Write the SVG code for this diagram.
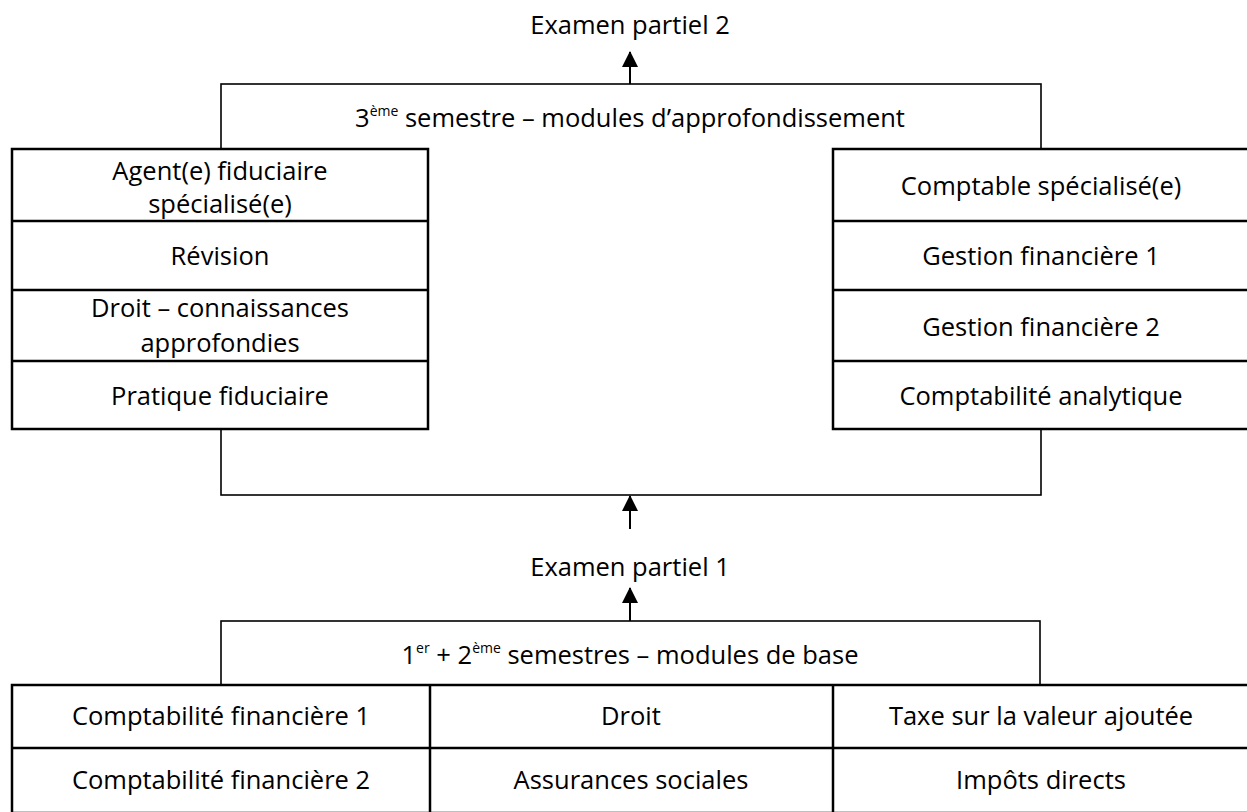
<svg xmlns="http://www.w3.org/2000/svg" width="1247" height="812" viewBox="0 0 1247 812">
<defs>
<marker id="ah" markerWidth="16" markerHeight="16" refX="15" refY="8" orient="auto" markerUnits="userSpaceOnUse" viewBox="0 0 16 16">
<path d="M0,0 L16,8 L0,16 Z" fill="#000"/>
</marker>
<style>
text{font-family:"Open Sans","Liberation Sans",sans-serif;font-size:25.5px;fill:#000;text-anchor:middle}
.sup{font-size:14px}
.thin{fill:none;stroke:#000;stroke-width:1.6}
.thick{fill:#fff;stroke:#000;stroke-width:2.5}
.ln{stroke:#000;stroke-width:2.5}
.conn{stroke:#000;stroke-width:2;fill:none}
</style>
</defs>
<rect width="1247" height="812" fill="#fff"/>

<g id="exam2"><text x="630" y="34">Examen partiel 2</text></g>

<g id="sem3">
<rect class="thin" x="221" y="84" width="820" height="411"/>
<text x="630" y="127">3<tspan class="sup" dy="-11">ème</tspan><tspan dy="11"> semestre – modules d’approfondissement</tspan></text>
</g>

<g id="left-col">
<rect class="thick" x="12" y="149" width="416" height="280"/>
<line class="ln" x1="12" y1="221" x2="428" y2="221"/>
<line class="ln" x1="12" y1="290" x2="428" y2="290"/>
<line class="ln" x1="12" y1="361" x2="428" y2="361"/>
<text x="220" y="180">Agent(e) fiduciaire</text>
<text x="220" y="213">spécialisé(e)</text>
<text x="220" y="265">Révision</text>
<text x="220" y="317">Droit – connaissances</text>
<text x="220" y="352">approfondies</text>
<text x="220" y="405">Pratique fiduciaire</text>
</g>

<g id="right-col">
<rect class="thick" x="833" y="149" width="416" height="280"/>
<line class="ln" x1="833" y1="221" x2="1249" y2="221"/>
<line class="ln" x1="833" y1="290" x2="1249" y2="290"/>
<line class="ln" x1="833" y1="361" x2="1249" y2="361"/>
<text x="1041" y="195">Comptable spécialisé(e)</text>
<text x="1041" y="265">Gestion financière 1</text>
<text x="1041" y="336">Gestion financière 2</text>
<text x="1041" y="405">Comptabilité analytique</text>
</g>

<g id="exam1"><text x="630" y="576">Examen partiel 1</text></g>

<g id="base">
<rect class="thin" x="221" y="621" width="819" height="64"/>
<text x="630" y="664">1<tspan class="sup" dy="-11">er</tspan><tspan dy="11"> + 2</tspan><tspan class="sup" dy="-11">ème</tspan><tspan dy="11"> semestres – modules de base</tspan></text>
</g>

<g id="base-table">
<rect class="thick" x="12" y="685" width="1237" height="128"/>
<line class="ln" x1="12" y1="748" x2="1249" y2="748"/>
<line class="ln" x1="430" y1="685" x2="430" y2="813"/>
<line class="ln" x1="833" y1="685" x2="833" y2="813"/>
<text x="221" y="725">Comptabilité financière 1</text>
<text x="631" y="725">Droit</text>
<text x="1041" y="725">Taxe sur la valeur ajoutée</text>
<text x="221" y="789">Comptabilité financière 2</text>
<text x="631" y="789">Assurances sociales</text>
<text x="1041" y="789">Impôts directs</text>
</g>

<g id="connectors">
<line class="conn" x1="630" y1="84" x2="630" y2="52" marker-end="url(#ah)"/>
<line class="conn" x1="630" y1="529" x2="630" y2="496" marker-end="url(#ah)"/>
<line class="conn" x1="630" y1="621" x2="630" y2="588" marker-end="url(#ah)"/>
</g>
</svg>
